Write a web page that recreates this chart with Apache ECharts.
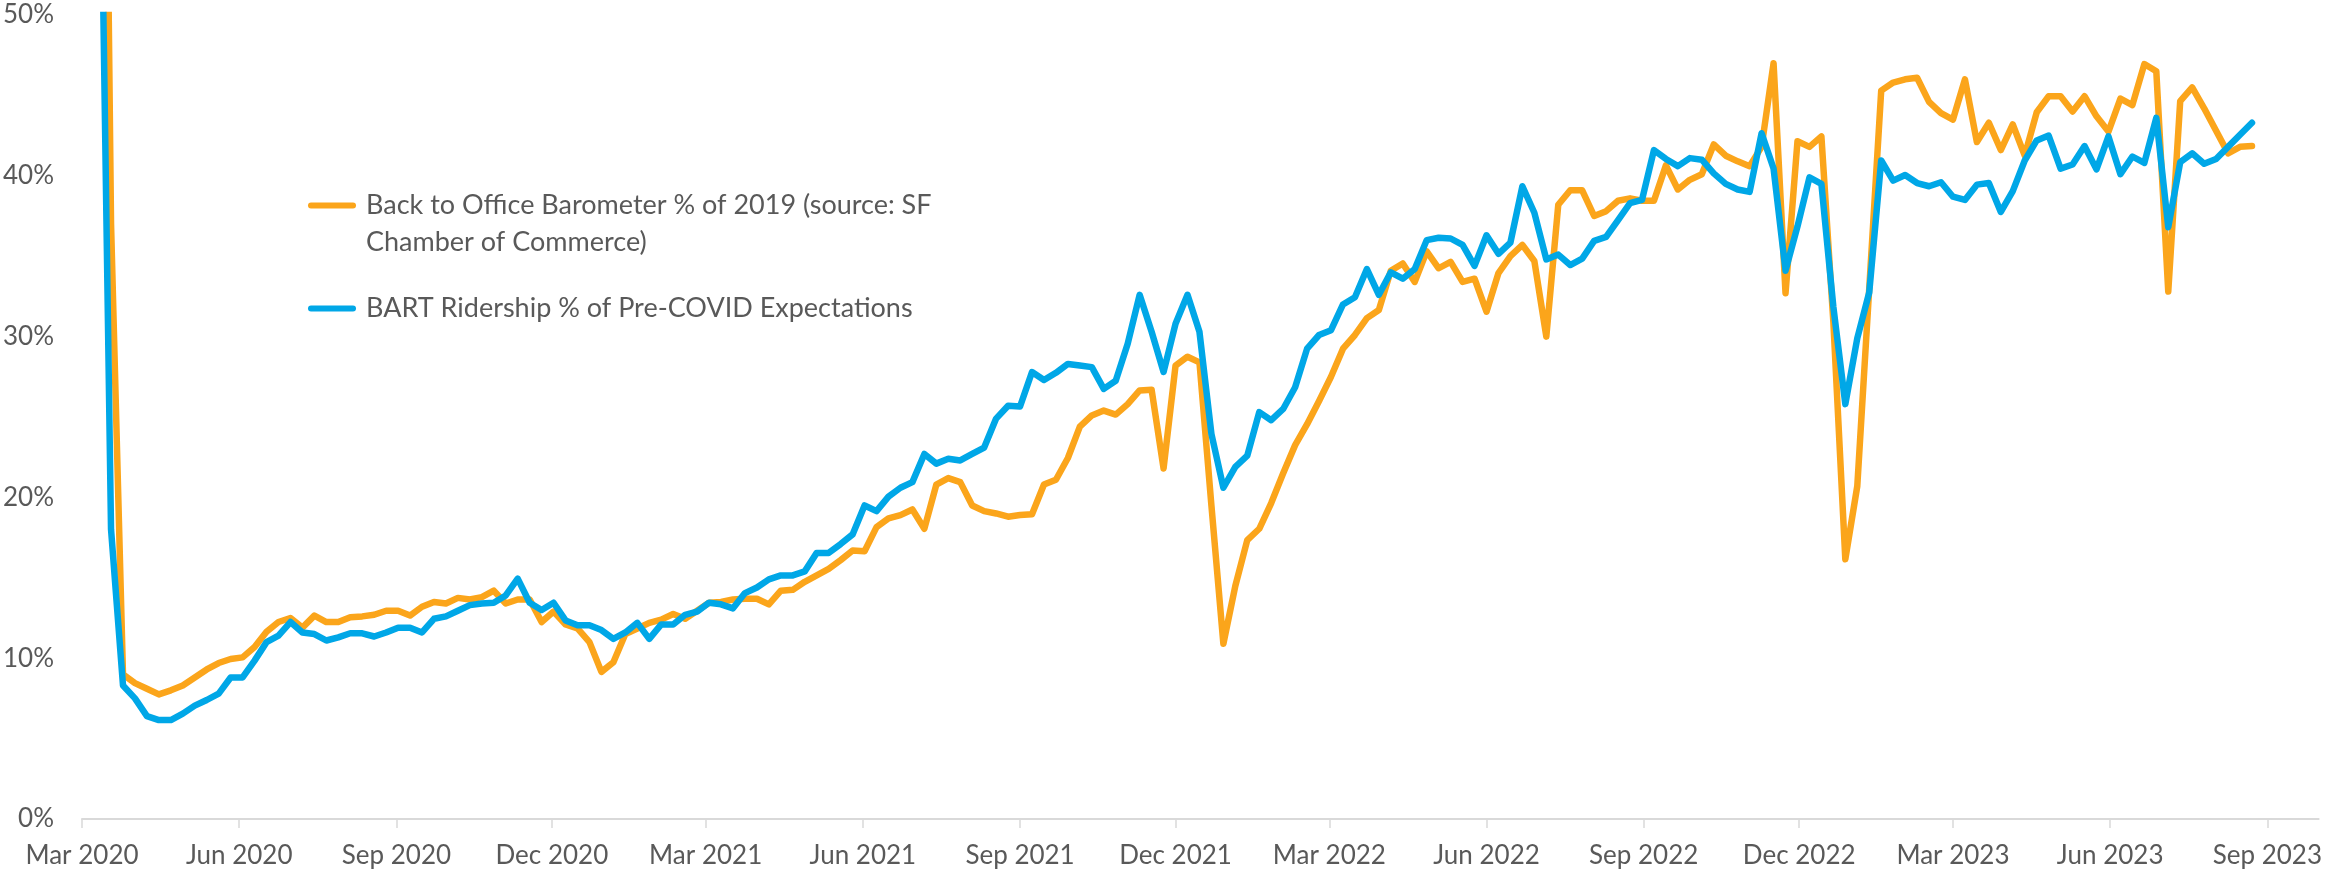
<!DOCTYPE html>
<html>
<head>
<meta charset="utf-8">
<script src="https://cdn.jsdelivr.net/npm/echarts@6/dist/echarts.min.js"></script>
<style>
  html, body { margin: 0; padding: 0; background: #fff; }
  #chart { width: 2325px; height: 872px; }
</style>
</head>
<body>
<div id="chart"></div>
<script>
// weekly readings, first week is Wed 11 Mar 2020
const firstWeek = [2020, 2, 11];

const officeName = 'Back to Office Barometer % of 2019 (source: SF Chamber of Commerce)';
const officeLegend = ['Back to Office Barometer % of 2019 (source: SF', 'Chamber of Commerce)'];
const bartName = 'BART Ridership % of Pre-COVID Expectations';

const officeValues = [
  104, 37, 9.0, 8.45, 8.1, 7.75, 8.0, 8.3, 8.8, 9.3,
  9.7, 9.95, 10.05, 10.7, 11.65, 12.25, 12.5, 11.9, 12.65, 12.25,
  12.25, 12.55, 12.6, 12.7, 12.95, 12.95, 12.65, 13.2, 13.5, 13.4,
  13.75, 13.65, 13.8, 14.2, 13.4, 13.65, 13.65, 12.25, 12.9, 12.1,
  11.85, 11.0, 9.15, 9.75, 11.5, 11.85, 12.2, 12.4, 12.75, 12.45,
  12.95, 13.45, 13.5, 13.65, 13.7, 13.7, 13.35, 14.2, 14.25, 14.75,
  15.15, 15.55, 16.1, 16.7, 16.65, 18.15, 18.7, 18.9, 19.25, 18.05,
  20.8, 21.2, 20.95, 19.5, 19.15, 19.0, 18.8, 18.9, 18.95, 20.8,
  21.1, 22.45, 24.4, 25.1, 25.4, 25.15, 25.8, 26.65, 26.7, 21.8,
  28.2, 28.75, 28.4, 19.5, 10.9, 14.5, 17.35, 18.05, 19.65, 21.5,
  23.25, 24.55, 26.0, 27.5, 29.25, 30.1, 31.15, 31.65, 34.1, 34.55,
  33.4, 35.3, 34.25, 34.65, 33.4, 33.6, 31.55, 33.95, 35.0, 35.7,
  34.7, 30.0, 38.2, 39.1, 39.1, 37.5, 37.8, 38.45, 38.6, 38.45,
  38.45, 40.65, 39.15, 39.75, 40.1, 41.95, 41.25, 40.9, 40.6, 41.8,
  47.0, 32.7, 42.15, 41.8, 42.45, 30.9, 16.15, 20.7, 33.0, 45.3,
  45.8, 46.0, 46.1, 44.6, 43.9, 43.5, 46.0, 42.1, 43.3, 41.6,
  43.2, 41.25, 43.95, 44.95, 44.95, 44.0, 44.95, 43.7, 42.75, 44.8,
  44.4, 46.95, 46.5, 32.8, 44.65, 45.5, 44.2, 42.8, 41.4, 41.8,
  41.85
];

const bartValues = [
  68, 18, 8.3, 7.5, 6.4, 6.15, 6.15, 6.55, 7.05, 7.4,
  7.8, 8.8, 8.8, 9.85, 11.0, 11.4, 12.25, 11.6, 11.5, 11.1,
  11.3, 11.55, 11.55, 11.35, 11.6, 11.9, 11.9, 11.6, 12.45, 12.6,
  12.95, 13.3, 13.4, 13.45, 13.9, 14.95, 13.45, 13.0, 13.45, 12.35,
  12.05, 12.05, 11.75, 11.2, 11.6, 12.2, 11.2, 12.1, 12.1, 12.7,
  12.9, 13.45, 13.35, 13.1, 14.05, 14.4, 14.9, 15.15, 15.15, 15.4,
  16.55, 16.55, 17.1, 17.7, 19.5, 19.15, 20.05, 20.6, 20.95, 22.7,
  22.1, 22.4, 22.3, 22.7, 23.1, 24.9, 25.7, 25.65, 27.8, 27.3,
  27.75, 28.3, 28.2, 28.1, 26.75, 27.25, 29.55, 32.6, 30.3, 27.8,
  30.8, 32.6, 30.3, 23.95, 20.6, 21.9, 22.6, 25.3, 24.8, 25.5,
  26.85, 29.25, 30.1, 30.4, 32.0, 32.45, 34.2, 32.6, 34.0, 33.6,
  34.2, 36.0, 36.15, 36.1, 35.7, 34.4, 36.3, 35.15, 35.85, 39.35,
  37.7, 34.8, 35.1, 34.45, 34.85, 35.95, 36.2, 37.25, 38.3, 38.5,
  41.6, 41.05, 40.6, 41.1, 41.0, 40.15, 39.5, 39.15, 39.0, 42.65,
  40.45, 34.1, 36.85, 39.9, 39.5, 31.85, 25.8, 29.9, 32.75, 40.95,
  39.7, 40.05, 39.55, 39.35, 39.6, 38.7, 38.5, 39.45, 39.55, 37.75,
  39.05, 40.95, 42.2, 42.5, 40.45, 40.7, 41.85, 40.4, 42.45, 40.1,
  41.2, 40.8, 43.6, 36.8, 40.85, 41.4, 40.75, 41.05, 41.8, 42.55,
  43.3
];

const tickMonths = [
  '2020-03', '2020-06', '2020-09', '2020-12', '2021-03', '2021-06', '2021-09', '2021-12',
  '2022-03', '2022-06', '2022-09', '2022-12', '2023-03', '2023-06', '2023-09'
];
const monthNames = ['Jan', 'Feb', 'Mar', 'Apr', 'May', 'Jun', 'Jul', 'Aug', 'Sep', 'Oct', 'Nov', 'Dec'];

const textColor = '#595959';
const fontFamily = 'Lato, "Noto Sans", sans-serif';
// short bar with round ends, same as the plotted line
const legendIcon = 'path://M3,0 H45 A3,3 0 0 1 45,6 H3 A3,3 0 0 1 3,0 Z';

function monthStart (s) {
    const parts = s.split('-');
    return new Date(+parts[0], +parts[1] - 1, 1).getTime();
}

const weekDates = officeValues.map((v, i) => new Date(firstWeek[0], firstWeek[1], firstWeek[2] + 7 * i).getTime());
const tickValues = tickMonths.map(monthStart);

const chart = echarts.init(document.getElementById('chart'));

const legendText = { color: textColor, fontFamily, fontSize: 27, lineHeight: 37, padding: [0, 0, 0, 5] };

const option = {
    animation: false,
    backgroundColor: '#fff',
    grid: { left: 81.5, right: 5, top: 15, bottom: 53, containLabel: false },
    legend: [{
        data: [officeName],
        left: 308,
        top: 150,
        padding: 0,
        icon: legendIcon,
        itemWidth: 48,
        itemHeight: 6.5,
        formatter: () => '\n' + officeLegend[0] + '\n' + officeLegend[1],
        textStyle: legendText
    }, {
        data: [bartName],
        left: 308,
        top: 290,
        padding: 0,
        icon: legendIcon,
        itemWidth: 48,
        itemHeight: 6.5,
        textStyle: legendText
    }],
    xAxis: {
        // dates as plain timestamps so the quarter ticks can sit on the month starts
        type: 'value',
        min: monthStart('2020-03'),
        max: monthStart('2023-10'),
        splitLine: { show: false },
        axisLine: { lineStyle: { color: '#D9D9D9', width: 2 } },
        axisTick: { customValues: tickValues, length: 9, lineStyle: { color: '#D9D9D9', width: 1.5 } },
        axisLabel: {
            customValues: tickValues,
            color: textColor,
            fontFamily,
            fontSize: 26,
            margin: 24,
            formatter: (value) => {
                const d = new Date(value);
                return monthNames[d.getMonth()] + ' ' + d.getFullYear();
            }
        }
    },
    yAxis: {
        type: 'value',
        min: 0,
        max: 50,
        interval: 10,
        axisLine: { show: false },
        axisTick: { show: false },
        splitLine: { show: false },
        axisLabel: { formatter: '{value}%', color: textColor, fontFamily, fontSize: 26, margin: 28 }
    },
    series: [{
        name: officeName,
        type: 'line',
        symbol: 'none',
        color: '#FBA51B',
        lineStyle: { width: 6.5, cap: 'round', join: 'round' },
        data: weekDates.map((d, i) => [d, officeValues[i]])
    }, {
        name: bartName,
        type: 'line',
        symbol: 'none',
        color: '#00A7E7',
        lineStyle: { width: 6.5, cap: 'round', join: 'round' },
        data: weekDates.map((d, i) => [d, bartValues[i]])
    }]
};

chart.setOption(option);
</script>
</body>
</html>
